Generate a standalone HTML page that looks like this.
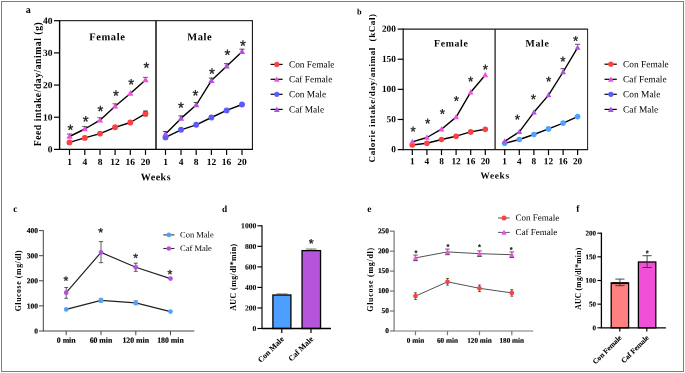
<!DOCTYPE html>
<html lang="en">
<head>
<meta charset="utf-8">
<title>Figure</title>
<style>
html,body{margin:0;padding:0;background:#fff;}
body{width:685px;height:373px;overflow:hidden;}
svg{display:block;font-family:"Liberation Serif", serif;}
</style>
</head>
<body>
<svg width="685" height="373" viewBox="0 0 685 373" role="img" aria-label="Feed intake, calorie intake, glucose tolerance and AUC charts">
<rect x="0" y="0" width="685" height="373" fill="#fff"/>
<rect x="1.5" y="1.5" width="682" height="370" fill="#fff" stroke="#6f7f9f" stroke-width="1"/>
<text transform="translate(25.70 13.00) rotate(0.05)" font-size="10" font-weight="bold" text-anchor="start" fill="#000">a</text>
<line x1="59.60" y1="20.70" x2="252.90" y2="20.70" stroke="#000" stroke-width="1.0" />
<line x1="252.40" y1="20.70" x2="252.40" y2="149.40" stroke="#000" stroke-width="1.0" />
<line x1="59.60" y1="20.20" x2="59.60" y2="150.00" stroke="#000" stroke-width="1.4" />
<line x1="156.00" y1="20.70" x2="156.00" y2="149.40" stroke="#000" stroke-width="1.4" />
<line x1="59.60" y1="149.40" x2="252.90" y2="149.40" stroke="#000" stroke-width="1.3" />
<line x1="54.00" y1="149.40" x2="59.60" y2="149.40" stroke="#000" stroke-width="1.2" />
<text transform="translate(52.60 152.58) rotate(0.05)" font-size="9.5" font-weight="bold" text-anchor="end" fill="#000">0</text>
<line x1="54.00" y1="117.22" x2="59.60" y2="117.22" stroke="#000" stroke-width="1.2" />
<text transform="translate(52.60 120.41) rotate(0.05)" font-size="9.5" font-weight="bold" text-anchor="end" fill="#000">10</text>
<line x1="54.00" y1="85.05" x2="59.60" y2="85.05" stroke="#000" stroke-width="1.2" />
<text transform="translate(52.60 88.23) rotate(0.05)" font-size="9.5" font-weight="bold" text-anchor="end" fill="#000">20</text>
<line x1="54.00" y1="52.88" x2="59.60" y2="52.88" stroke="#000" stroke-width="1.2" />
<text transform="translate(52.60 56.06) rotate(0.05)" font-size="9.5" font-weight="bold" text-anchor="end" fill="#000">30</text>
<line x1="54.00" y1="20.70" x2="59.60" y2="20.70" stroke="#000" stroke-width="1.2" />
<text transform="translate(52.60 23.88) rotate(0.05)" font-size="9.5" font-weight="bold" text-anchor="end" fill="#000">40</text>
<line x1="69.50" y1="149.40" x2="69.50" y2="154.90" stroke="#000" stroke-width="1.2" />
<text transform="translate(69.50 165.00) rotate(0.05)" font-size="9.5" font-weight="bold" text-anchor="middle" fill="#000">1</text>
<line x1="84.80" y1="149.40" x2="84.80" y2="154.90" stroke="#000" stroke-width="1.2" />
<text transform="translate(84.80 165.00) rotate(0.05)" font-size="9.5" font-weight="bold" text-anchor="middle" fill="#000">4</text>
<line x1="100.00" y1="149.40" x2="100.00" y2="154.90" stroke="#000" stroke-width="1.2" />
<text transform="translate(100.00 165.00) rotate(0.05)" font-size="9.5" font-weight="bold" text-anchor="middle" fill="#000">8</text>
<line x1="115.10" y1="149.40" x2="115.10" y2="154.90" stroke="#000" stroke-width="1.2" />
<text transform="translate(115.10 165.00) rotate(0.05)" font-size="9.5" font-weight="bold" text-anchor="middle" fill="#000">12</text>
<line x1="130.30" y1="149.40" x2="130.30" y2="154.90" stroke="#000" stroke-width="1.2" />
<text transform="translate(130.30 165.00) rotate(0.05)" font-size="9.5" font-weight="bold" text-anchor="middle" fill="#000">16</text>
<line x1="145.50" y1="149.40" x2="145.50" y2="154.90" stroke="#000" stroke-width="1.2" />
<text transform="translate(145.50 165.00) rotate(0.05)" font-size="9.5" font-weight="bold" text-anchor="middle" fill="#000">20</text>
<line x1="165.50" y1="149.40" x2="165.50" y2="154.90" stroke="#000" stroke-width="1.2" />
<text transform="translate(165.50 165.00) rotate(0.05)" font-size="9.5" font-weight="bold" text-anchor="middle" fill="#000">1</text>
<line x1="181.00" y1="149.40" x2="181.00" y2="154.90" stroke="#000" stroke-width="1.2" />
<text transform="translate(181.00 165.00) rotate(0.05)" font-size="9.5" font-weight="bold" text-anchor="middle" fill="#000">4</text>
<line x1="196.20" y1="149.40" x2="196.20" y2="154.90" stroke="#000" stroke-width="1.2" />
<text transform="translate(196.20 165.00) rotate(0.05)" font-size="9.5" font-weight="bold" text-anchor="middle" fill="#000">8</text>
<line x1="211.40" y1="149.40" x2="211.40" y2="154.90" stroke="#000" stroke-width="1.2" />
<text transform="translate(211.40 165.00) rotate(0.05)" font-size="9.5" font-weight="bold" text-anchor="middle" fill="#000">12</text>
<line x1="226.60" y1="149.40" x2="226.60" y2="154.90" stroke="#000" stroke-width="1.2" />
<text transform="translate(226.60 165.00) rotate(0.05)" font-size="9.5" font-weight="bold" text-anchor="middle" fill="#000">16</text>
<line x1="242.00" y1="149.40" x2="242.00" y2="154.90" stroke="#000" stroke-width="1.2" />
<text transform="translate(242.00 165.00) rotate(0.05)" font-size="9.5" font-weight="bold" text-anchor="middle" fill="#000">20</text>
<text transform="translate(155.90 180.20) rotate(0.05)" font-size="10" font-weight="bold" text-anchor="middle" letter-spacing="0.5" fill="#000">Weeks</text>
<text transform="translate(41.40 84.30) rotate(-90)" font-size="9.6" font-weight="bold" text-anchor="middle" textLength="124.0" lengthAdjust="spacing" fill="#000">Feed intake/day/animal (g)</text>
<text transform="translate(107.30 40.30) rotate(0.05)" font-size="10.5" font-weight="bold" text-anchor="middle" letter-spacing="0.6" fill="#000">Female</text>
<text transform="translate(199.80 40.30) rotate(0.05)" font-size="10.5" font-weight="bold" text-anchor="middle" letter-spacing="0.6" fill="#000">Male</text>
<polyline points="69.50,142.40 84.80,137.90 100.00,133.60 115.10,127.30 130.30,122.50 145.50,113.60" fill="none" stroke="#000" stroke-width="1.4" stroke-linejoin="round"/>
<polyline points="69.50,136.50 84.80,129.00 100.00,120.20 115.10,106.30 130.30,93.50 145.50,79.90" fill="none" stroke="#000" stroke-width="1.4" stroke-linejoin="round"/>
<polyline points="165.50,137.40 181.00,129.80 196.20,124.80 211.40,117.50 226.60,110.40 242.00,104.50" fill="none" stroke="#000" stroke-width="1.4" stroke-linejoin="round"/>
<polyline points="165.50,134.00 181.00,118.40 196.20,105.00 211.40,80.60 226.60,66.20 242.00,51.70" fill="none" stroke="#000" stroke-width="1.4" stroke-linejoin="round"/>
<circle cx="69.50" cy="142.40" r="2.95" fill="#ff4040"/>
<circle cx="84.80" cy="137.90" r="2.95" fill="#ff4040"/>
<circle cx="100.00" cy="133.60" r="2.95" fill="#ff4040"/>
<circle cx="115.10" cy="127.30" r="2.95" fill="#ff4040"/>
<circle cx="130.30" cy="122.50" r="2.95" fill="#ff4040"/>
<circle cx="145.50" cy="113.60" r="2.95" fill="#ff4040"/>
<line x1="143.10" y1="111.00" x2="147.90" y2="111.00" stroke="#333" stroke-width="0.9" />
<line x1="143.10" y1="116.20" x2="147.90" y2="116.20" stroke="#933" stroke-width="0.7" />
<polygon points="69.50,133.00 66.40,138.80 72.60,138.80" fill="#f24fe0"/>
<line x1="66.90" y1="134.00" x2="72.10" y2="134.00" stroke="#444" stroke-width="0.8" />
<polygon points="84.80,125.50 81.70,131.30 87.90,131.30" fill="#f24fe0"/>
<line x1="82.20" y1="126.50" x2="87.40" y2="126.50" stroke="#444" stroke-width="0.8" />
<polygon points="100.00,116.70 96.90,122.50 103.10,122.50" fill="#f24fe0"/>
<line x1="97.40" y1="117.70" x2="102.60" y2="117.70" stroke="#444" stroke-width="0.8" />
<polygon points="115.10,102.80 112.00,108.60 118.20,108.60" fill="#f24fe0"/>
<line x1="112.50" y1="103.80" x2="117.70" y2="103.80" stroke="#444" stroke-width="0.8" />
<polygon points="130.30,90.00 127.20,95.80 133.40,95.80" fill="#f24fe0"/>
<polygon points="145.50,76.40 142.40,82.20 148.60,82.20" fill="#f24fe0"/>
<line x1="142.90" y1="77.40" x2="148.10" y2="77.40" stroke="#444" stroke-width="0.8" />
<circle cx="165.50" cy="137.40" r="2.95" fill="#5a5aff"/>
<circle cx="181.00" cy="129.80" r="2.95" fill="#5a5aff"/>
<circle cx="196.20" cy="124.80" r="2.95" fill="#5a5aff"/>
<circle cx="211.40" cy="117.50" r="2.95" fill="#5a5aff"/>
<circle cx="226.60" cy="110.40" r="2.95" fill="#5a5aff"/>
<circle cx="242.00" cy="104.50" r="2.95" fill="#5a5aff"/>
<polygon points="165.50,130.50 162.40,136.30 168.60,136.30" fill="#b44fe0"/>
<line x1="162.90" y1="131.50" x2="168.10" y2="131.50" stroke="#333" stroke-width="0.85" />
<polygon points="181.00,114.90 177.90,120.70 184.10,120.70" fill="#b44fe0"/>
<line x1="178.40" y1="115.90" x2="183.60" y2="115.90" stroke="#333" stroke-width="0.85" />
<polygon points="196.20,101.50 193.10,107.30 199.30,107.30" fill="#b44fe0"/>
<line x1="193.60" y1="102.50" x2="198.80" y2="102.50" stroke="#333" stroke-width="0.85" />
<polygon points="211.40,77.10 208.30,82.90 214.50,82.90" fill="#b44fe0"/>
<line x1="208.80" y1="78.10" x2="214.00" y2="78.10" stroke="#333" stroke-width="0.85" />
<polygon points="226.60,62.70 223.50,68.50 229.70,68.50" fill="#b44fe0"/>
<line x1="224.00" y1="63.70" x2="229.20" y2="63.70" stroke="#333" stroke-width="0.85" />
<polygon points="242.00,48.20 238.90,54.00 245.10,54.00" fill="#b44fe0"/>
<line x1="239.40" y1="49.20" x2="244.60" y2="49.20" stroke="#333" stroke-width="0.85" />
<text transform="translate(70.30 134.88) rotate(0.05)" font-size="15" stroke="#1a1a1a" stroke-width="0.3" text-anchor="middle" font-family='"Liberation Sans", sans-serif' fill="#1a1a1a">*</text>
<text transform="translate(85.60 126.38) rotate(0.05)" font-size="15" stroke="#1a1a1a" stroke-width="0.3" text-anchor="middle" font-family='"Liberation Sans", sans-serif' fill="#1a1a1a">*</text>
<text transform="translate(100.50 116.17) rotate(0.05)" font-size="15" stroke="#1a1a1a" stroke-width="0.3" text-anchor="middle" font-family='"Liberation Sans", sans-serif' fill="#1a1a1a">*</text>
<text transform="translate(115.90 100.78) rotate(0.05)" font-size="15" stroke="#1a1a1a" stroke-width="0.3" text-anchor="middle" font-family='"Liberation Sans", sans-serif' fill="#1a1a1a">*</text>
<text transform="translate(131.20 89.38) rotate(0.05)" font-size="15" stroke="#1a1a1a" stroke-width="0.3" text-anchor="middle" font-family='"Liberation Sans", sans-serif' fill="#1a1a1a">*</text>
<text transform="translate(146.40 72.67) rotate(0.05)" font-size="15" stroke="#1a1a1a" stroke-width="0.3" text-anchor="middle" font-family='"Liberation Sans", sans-serif' fill="#1a1a1a">*</text>
<text transform="translate(181.00 112.78) rotate(0.05)" font-size="15" stroke="#1a1a1a" stroke-width="0.3" text-anchor="middle" font-family='"Liberation Sans", sans-serif' fill="#1a1a1a">*</text>
<text transform="translate(195.40 100.58) rotate(0.05)" font-size="15" stroke="#1a1a1a" stroke-width="0.3" text-anchor="middle" font-family='"Liberation Sans", sans-serif' fill="#1a1a1a">*</text>
<text transform="translate(211.80 78.78) rotate(0.05)" font-size="15" stroke="#1a1a1a" stroke-width="0.3" text-anchor="middle" font-family='"Liberation Sans", sans-serif' fill="#1a1a1a">*</text>
<text transform="translate(227.40 60.08) rotate(0.05)" font-size="15" stroke="#1a1a1a" stroke-width="0.3" text-anchor="middle" font-family='"Liberation Sans", sans-serif' fill="#1a1a1a">*</text>
<text transform="translate(242.80 50.78) rotate(0.05)" font-size="15" stroke="#1a1a1a" stroke-width="0.3" text-anchor="middle" font-family='"Liberation Sans", sans-serif' fill="#1a1a1a">*</text>
<line x1="270.60" y1="64.40" x2="282.60" y2="64.40" stroke="#000" stroke-width="1.2" />
<circle cx="276.80" cy="64.40" r="2.6" fill="#ff4040"/>
<text transform="translate(288.90 67.40) rotate(0.05)" font-size="9.4" text-anchor="start" fill="#000">Con Female</text>
<line x1="270.60" y1="79.30" x2="282.60" y2="79.30" stroke="#000" stroke-width="1.2" />
<polygon points="276.80,76.40 273.90,81.82 279.70,81.82" fill="#f24fe0"/>
<text transform="translate(288.90 82.30) rotate(0.05)" font-size="9.4" text-anchor="start" fill="#000">Caf Female</text>
<line x1="270.60" y1="94.30" x2="282.60" y2="94.30" stroke="#000" stroke-width="1.2" />
<circle cx="276.80" cy="94.30" r="2.6" fill="#5a5aff"/>
<text transform="translate(288.90 97.30) rotate(0.05)" font-size="9.4" text-anchor="start" fill="#000">Con Male</text>
<line x1="270.60" y1="109.40" x2="282.60" y2="109.40" stroke="#000" stroke-width="1.2" />
<polygon points="276.80,106.50 273.90,111.92 279.70,111.92" fill="#b44fe0"/>
<text transform="translate(288.90 112.40) rotate(0.05)" font-size="9.4" text-anchor="start" fill="#000">Caf Male</text>
<text transform="translate(356.90 14.50) rotate(0.05)" font-size="8.3" font-weight="bold" text-anchor="start" fill="#000">b</text>
<line x1="403.20" y1="29.10" x2="588.10" y2="29.10" stroke="#1c1c1c" stroke-width="1.3" />
<line x1="587.60" y1="29.10" x2="587.60" y2="149.60" stroke="#1c1c1c" stroke-width="1.0" />
<line x1="403.20" y1="28.60" x2="403.20" y2="150.20" stroke="#1c1c1c" stroke-width="1.26" />
<line x1="495.10" y1="29.10" x2="495.10" y2="149.60" stroke="#1c1c1c" stroke-width="1.26" />
<line x1="403.20" y1="149.60" x2="588.10" y2="149.60" stroke="#1c1c1c" stroke-width="1.3" />
<line x1="397.70" y1="149.60" x2="403.20" y2="149.60" stroke="#000" stroke-width="1.2" />
<text transform="translate(395.90 152.32) rotate(0.05)" font-size="9.3" font-weight="bold" text-anchor="end" fill="#000">0</text>
<line x1="397.70" y1="119.47" x2="403.20" y2="119.47" stroke="#000" stroke-width="1.2" />
<text transform="translate(395.90 122.19) rotate(0.05)" font-size="9.3" font-weight="bold" text-anchor="end" fill="#000">50</text>
<line x1="397.70" y1="89.35" x2="403.20" y2="89.35" stroke="#000" stroke-width="1.2" />
<text transform="translate(395.90 92.07) rotate(0.05)" font-size="9.3" font-weight="bold" text-anchor="end" fill="#000">100</text>
<line x1="397.70" y1="59.22" x2="403.20" y2="59.22" stroke="#000" stroke-width="1.2" />
<text transform="translate(395.90 61.94) rotate(0.05)" font-size="9.3" font-weight="bold" text-anchor="end" fill="#000">150</text>
<line x1="397.70" y1="29.10" x2="403.20" y2="29.10" stroke="#000" stroke-width="1.2" />
<text transform="translate(395.90 31.82) rotate(0.05)" font-size="9.3" font-weight="bold" text-anchor="end" fill="#000">200</text>
<line x1="412.30" y1="149.60" x2="412.30" y2="155.10" stroke="#000" stroke-width="1.2" />
<text transform="translate(412.30 164.30) rotate(0.05)" font-size="9.3" font-weight="bold" text-anchor="middle" fill="#000">1</text>
<line x1="426.90" y1="149.60" x2="426.90" y2="155.10" stroke="#000" stroke-width="1.2" />
<text transform="translate(426.90 164.30) rotate(0.05)" font-size="9.3" font-weight="bold" text-anchor="middle" fill="#000">4</text>
<line x1="441.50" y1="149.60" x2="441.50" y2="155.10" stroke="#000" stroke-width="1.2" />
<text transform="translate(441.50 164.30) rotate(0.05)" font-size="9.3" font-weight="bold" text-anchor="middle" fill="#000">8</text>
<line x1="456.10" y1="149.60" x2="456.10" y2="155.10" stroke="#000" stroke-width="1.2" />
<text transform="translate(456.10 164.30) rotate(0.05)" font-size="9.3" font-weight="bold" text-anchor="middle" fill="#000">12</text>
<line x1="470.70" y1="149.60" x2="470.70" y2="155.10" stroke="#000" stroke-width="1.2" />
<text transform="translate(470.70 164.30) rotate(0.05)" font-size="9.3" font-weight="bold" text-anchor="middle" fill="#000">16</text>
<line x1="485.30" y1="149.60" x2="485.30" y2="155.10" stroke="#000" stroke-width="1.2" />
<text transform="translate(485.30 164.30) rotate(0.05)" font-size="9.3" font-weight="bold" text-anchor="middle" fill="#000">20</text>
<line x1="504.70" y1="149.60" x2="504.70" y2="155.10" stroke="#000" stroke-width="1.2" />
<text transform="translate(504.70 164.30) rotate(0.05)" font-size="9.3" font-weight="bold" text-anchor="middle" fill="#000">1</text>
<line x1="519.30" y1="149.60" x2="519.30" y2="155.10" stroke="#000" stroke-width="1.2" />
<text transform="translate(519.30 164.30) rotate(0.05)" font-size="9.3" font-weight="bold" text-anchor="middle" fill="#000">4</text>
<line x1="533.90" y1="149.60" x2="533.90" y2="155.10" stroke="#000" stroke-width="1.2" />
<text transform="translate(533.90 164.30) rotate(0.05)" font-size="9.3" font-weight="bold" text-anchor="middle" fill="#000">8</text>
<line x1="548.50" y1="149.60" x2="548.50" y2="155.10" stroke="#000" stroke-width="1.2" />
<text transform="translate(548.50 164.30) rotate(0.05)" font-size="9.3" font-weight="bold" text-anchor="middle" fill="#000">12</text>
<line x1="563.10" y1="149.60" x2="563.10" y2="155.10" stroke="#000" stroke-width="1.2" />
<text transform="translate(563.10 164.30) rotate(0.05)" font-size="9.3" font-weight="bold" text-anchor="middle" fill="#000">16</text>
<line x1="577.60" y1="149.60" x2="577.60" y2="155.10" stroke="#000" stroke-width="1.2" />
<text transform="translate(577.60 164.30) rotate(0.05)" font-size="9.3" font-weight="bold" text-anchor="middle" fill="#000">20</text>
<text transform="translate(495.10 178.50) rotate(0.05)" font-size="9.2" font-weight="bold" text-anchor="middle" letter-spacing="0.75" fill="#000">Weeks</text>
<text transform="translate(375.20 88.20) rotate(-90)" font-size="9.0" font-weight="bold" text-anchor="middle" textLength="148.5" lengthAdjust="spacing" fill="#000">Calorie intake/day/animal &#160;(kCal)</text>
<text transform="translate(451.30 46.60) rotate(0.05)" font-size="9.8" font-weight="bold" text-anchor="middle" letter-spacing="0.65" fill="#000">Female</text>
<text transform="translate(537.50 46.60) rotate(0.05)" font-size="9.8" font-weight="bold" text-anchor="middle" letter-spacing="0.65" fill="#000">Male</text>
<polyline points="412.30,145.00 426.90,143.30 441.50,139.50 456.10,136.20 470.70,131.90 485.30,129.20" fill="none" stroke="#000" stroke-width="1.4" stroke-linejoin="round"/>
<polyline points="412.30,141.80 426.90,137.50 441.50,129.20 456.10,117.10 470.70,92.20 485.30,75.00" fill="none" stroke="#000" stroke-width="1.4" stroke-linejoin="round"/>
<polyline points="504.70,143.30 519.30,139.50 533.90,134.50 548.50,128.90 563.10,123.10 577.60,116.60" fill="none" stroke="#000" stroke-width="1.4" stroke-linejoin="round"/>
<polyline points="504.70,141.30 519.30,131.90 533.90,112.30 548.50,95.10 563.10,72.00 577.60,47.60" fill="none" stroke="#000" stroke-width="1.4" stroke-linejoin="round"/>
<circle cx="412.30" cy="145.00" r="2.8" fill="#ff4040"/>
<circle cx="426.90" cy="143.30" r="2.8" fill="#ff4040"/>
<circle cx="441.50" cy="139.50" r="2.8" fill="#ff4040"/>
<circle cx="456.10" cy="136.20" r="2.8" fill="#ff4040"/>
<circle cx="470.70" cy="131.90" r="2.8" fill="#ff4040"/>
<circle cx="485.30" cy="129.20" r="2.8" fill="#ff4040"/>
<polygon points="412.30,138.65 409.45,143.98 415.15,143.98" fill="#f24fe0"/>
<polygon points="426.90,134.35 424.05,139.68 429.75,139.68" fill="#f24fe0"/>
<polygon points="441.50,126.05 438.65,131.38 444.35,131.38" fill="#f24fe0"/>
<polygon points="456.10,113.95 453.25,119.28 458.95,119.28" fill="#f24fe0"/>
<polygon points="470.70,89.05 467.85,94.38 473.55,94.38" fill="#f24fe0"/>
<polygon points="485.30,71.85 482.45,77.18 488.15,77.18" fill="#f24fe0"/>
<circle cx="504.70" cy="143.30" r="2.8" fill="#4da3ff"/>
<circle cx="519.30" cy="139.50" r="2.8" fill="#4da3ff"/>
<circle cx="533.90" cy="134.50" r="2.8" fill="#4da3ff"/>
<circle cx="548.50" cy="128.90" r="2.8" fill="#4da3ff"/>
<circle cx="563.10" cy="123.10" r="2.8" fill="#4da3ff"/>
<circle cx="577.60" cy="116.60" r="2.8" fill="#4da3ff"/>
<polygon points="504.70,138.15 501.85,143.48 507.55,143.48" fill="#b44fe0"/>
<polygon points="519.30,128.75 516.45,134.08 522.15,134.08" fill="#b44fe0"/>
<polygon points="533.90,109.15 531.05,114.48 536.75,114.48" fill="#b44fe0"/>
<polygon points="548.50,91.95 545.65,97.28 551.35,97.28" fill="#b44fe0"/>
<polygon points="563.10,68.85 560.25,74.18 565.95,74.18" fill="#b44fe0"/>
<line x1="560.50" y1="68.70" x2="565.70" y2="68.70" stroke="#333" stroke-width="0.85" />
<polygon points="577.60,44.45 574.75,49.78 580.45,49.78" fill="#b44fe0"/>
<line x1="575.00" y1="44.30" x2="580.20" y2="44.30" stroke="#333" stroke-width="0.85" />
<text transform="translate(413.00 136.02) rotate(0.05)" font-size="13.5" stroke="#1a1a1a" stroke-width="0.3" text-anchor="middle" font-family='"Liberation Sans", sans-serif' fill="#1a1a1a">*</text>
<text transform="translate(427.60 128.02) rotate(0.05)" font-size="13.5" stroke="#1a1a1a" stroke-width="0.3" text-anchor="middle" font-family='"Liberation Sans", sans-serif' fill="#1a1a1a">*</text>
<text transform="translate(442.30 118.42) rotate(0.05)" font-size="13.5" stroke="#1a1a1a" stroke-width="0.3" text-anchor="middle" font-family='"Liberation Sans", sans-serif' fill="#1a1a1a">*</text>
<text transform="translate(456.40 105.52) rotate(0.05)" font-size="13.5" stroke="#1a1a1a" stroke-width="0.3" text-anchor="middle" font-family='"Liberation Sans", sans-serif' fill="#1a1a1a">*</text>
<text transform="translate(470.70 86.12) rotate(0.05)" font-size="13.5" stroke="#1a1a1a" stroke-width="0.3" text-anchor="middle" font-family='"Liberation Sans", sans-serif' fill="#1a1a1a">*</text>
<text transform="translate(485.30 73.92) rotate(0.05)" font-size="13.5" stroke="#1a1a1a" stroke-width="0.3" text-anchor="middle" font-family='"Liberation Sans", sans-serif' fill="#1a1a1a">*</text>
<text transform="translate(517.30 123.92) rotate(0.05)" font-size="13.5" stroke="#1a1a1a" stroke-width="0.3" text-anchor="middle" font-family='"Liberation Sans", sans-serif' fill="#1a1a1a">*</text>
<text transform="translate(533.40 103.82) rotate(0.05)" font-size="13.5" stroke="#1a1a1a" stroke-width="0.3" text-anchor="middle" font-family='"Liberation Sans", sans-serif' fill="#1a1a1a">*</text>
<text transform="translate(548.50 86.12) rotate(0.05)" font-size="13.5" stroke="#1a1a1a" stroke-width="0.3" text-anchor="middle" font-family='"Liberation Sans", sans-serif' fill="#1a1a1a">*</text>
<text transform="translate(562.90 66.12) rotate(0.05)" font-size="13.5" stroke="#1a1a1a" stroke-width="0.3" text-anchor="middle" font-family='"Liberation Sans", sans-serif' fill="#1a1a1a">*</text>
<text transform="translate(575.50 45.42) rotate(0.05)" font-size="13.5" stroke="#1a1a1a" stroke-width="0.3" text-anchor="middle" font-family='"Liberation Sans", sans-serif' fill="#1a1a1a">*</text>
<line x1="604.50" y1="64.20" x2="616.80" y2="64.20" stroke="#000" stroke-width="1.2" />
<circle cx="610.85" cy="64.20" r="2.6" fill="#ff4040"/>
<text transform="translate(623.10 67.20) rotate(0.05)" font-size="9.4" text-anchor="start" fill="#000">Con Female</text>
<line x1="604.50" y1="79.30" x2="616.80" y2="79.30" stroke="#000" stroke-width="1.2" />
<polygon points="610.85,76.40 607.95,81.82 613.75,81.82" fill="#f24fe0"/>
<text transform="translate(623.10 82.30) rotate(0.05)" font-size="9.4" text-anchor="start" fill="#000">Caf Female</text>
<line x1="604.50" y1="94.30" x2="616.80" y2="94.30" stroke="#000" stroke-width="1.2" />
<circle cx="610.85" cy="94.30" r="2.6" fill="#5a5aff"/>
<text transform="translate(623.10 97.30) rotate(0.05)" font-size="9.4" text-anchor="start" fill="#000">Con Male</text>
<line x1="604.50" y1="109.40" x2="616.80" y2="109.40" stroke="#000" stroke-width="1.2" />
<polygon points="610.85,106.50 607.95,111.92 613.75,111.92" fill="#b44fe0"/>
<text transform="translate(623.10 112.40) rotate(0.05)" font-size="9.4" text-anchor="start" fill="#000">Caf Male</text>
<text transform="translate(13.30 212.10) rotate(0.05)" font-size="9.5" font-weight="bold" text-anchor="start" fill="#000">c</text>
<line x1="43.30" y1="230.20" x2="43.30" y2="331.00" stroke="#444" stroke-width="1.0" />
<line x1="42.90" y1="331.00" x2="194.40" y2="331.00" stroke="#444" stroke-width="1.0" />
<line x1="39.00" y1="331.00" x2="43.30" y2="331.00" stroke="#444" stroke-width="1.0" />
<text transform="translate(38.00 333.51) rotate(0.05)" font-size="7.5" font-weight="bold" stroke="#000" stroke-width="0.15" text-anchor="end" fill="#000">0</text>
<line x1="39.00" y1="305.90" x2="43.30" y2="305.90" stroke="#444" stroke-width="1.0" />
<text transform="translate(38.00 308.41) rotate(0.05)" font-size="7.5" font-weight="bold" stroke="#000" stroke-width="0.15" text-anchor="end" fill="#000">100</text>
<line x1="39.00" y1="280.80" x2="43.30" y2="280.80" stroke="#444" stroke-width="1.0" />
<text transform="translate(38.00 283.31) rotate(0.05)" font-size="7.5" font-weight="bold" stroke="#000" stroke-width="0.15" text-anchor="end" fill="#000">200</text>
<line x1="39.00" y1="255.70" x2="43.30" y2="255.70" stroke="#444" stroke-width="1.0" />
<text transform="translate(38.00 258.21) rotate(0.05)" font-size="7.5" font-weight="bold" stroke="#000" stroke-width="0.15" text-anchor="end" fill="#000">300</text>
<line x1="39.00" y1="230.60" x2="43.30" y2="230.60" stroke="#444" stroke-width="1.0" />
<text transform="translate(38.00 233.11) rotate(0.05)" font-size="7.5" font-weight="bold" stroke="#000" stroke-width="0.15" text-anchor="end" fill="#000">400</text>
<line x1="66.20" y1="331.00" x2="66.20" y2="335.20" stroke="#444" stroke-width="1.0" />
<text transform="translate(66.20 342.70) rotate(0.05)" font-size="7.8" font-weight="bold" stroke="#000" stroke-width="0.15" text-anchor="middle" fill="#000">0 min</text>
<line x1="101.00" y1="331.00" x2="101.00" y2="335.20" stroke="#444" stroke-width="1.0" />
<text transform="translate(101.00 342.70) rotate(0.05)" font-size="7.8" font-weight="bold" stroke="#000" stroke-width="0.15" text-anchor="middle" fill="#000">60 min</text>
<line x1="135.80" y1="331.00" x2="135.80" y2="335.20" stroke="#444" stroke-width="1.0" />
<text transform="translate(135.80 342.70) rotate(0.05)" font-size="7.8" font-weight="bold" stroke="#000" stroke-width="0.15" text-anchor="middle" fill="#000">120 min</text>
<line x1="170.50" y1="331.00" x2="170.50" y2="335.20" stroke="#444" stroke-width="1.0" />
<text transform="translate(170.50 342.70) rotate(0.05)" font-size="7.8" font-weight="bold" stroke="#000" stroke-width="0.15" text-anchor="middle" fill="#000">180 min</text>
<text transform="translate(20.70 280.80) rotate(-90)" font-size="7.8" font-weight="bold" text-anchor="middle" textLength="61.0" lengthAdjust="spacing" fill="#000">Glucose (mg/dl)</text>
<line x1="66.20" y1="287.50" x2="66.20" y2="298.30" stroke="#333" stroke-width="0.8" />
<line x1="64.40" y1="287.50" x2="68.00" y2="287.50" stroke="#333" stroke-width="0.8" />
<line x1="64.40" y1="298.30" x2="68.00" y2="298.30" stroke="#333" stroke-width="0.8" />
<line x1="101.00" y1="241.60" x2="101.00" y2="262.70" stroke="#333" stroke-width="0.8" />
<line x1="98.80" y1="241.60" x2="103.20" y2="241.60" stroke="#333" stroke-width="0.8" />
<line x1="98.80" y1="262.70" x2="103.20" y2="262.70" stroke="#333" stroke-width="0.8" />
<line x1="135.80" y1="263.20" x2="135.80" y2="271.30" stroke="#333" stroke-width="0.8" />
<line x1="133.80" y1="263.20" x2="137.80" y2="263.20" stroke="#333" stroke-width="0.8" />
<line x1="133.80" y1="271.30" x2="137.80" y2="271.30" stroke="#333" stroke-width="0.8" />
<line x1="101.00" y1="298.30" x2="101.00" y2="302.30" stroke="#3d6fa8" stroke-width="0.7" />
<line x1="98.80" y1="298.30" x2="103.20" y2="298.30" stroke="#3d6fa8" stroke-width="0.7" />
<line x1="98.80" y1="302.30" x2="103.20" y2="302.30" stroke="#3d6fa8" stroke-width="0.7" />
<line x1="135.80" y1="300.80" x2="135.80" y2="304.80" stroke="#3d6fa8" stroke-width="0.7" />
<line x1="133.60" y1="300.80" x2="138.00" y2="300.80" stroke="#3d6fa8" stroke-width="0.7" />
<line x1="133.60" y1="304.80" x2="138.00" y2="304.80" stroke="#3d6fa8" stroke-width="0.7" />
<polyline points="66.20,309.40 101.00,300.30 135.80,302.80 170.50,311.60" fill="none" stroke="#222" stroke-width="1.2" stroke-linejoin="round"/>
<polyline points="66.20,292.70 101.00,252.40 135.80,267.30 170.50,278.60" fill="none" stroke="#222" stroke-width="1.2" stroke-linejoin="round"/>
<circle cx="66.20" cy="309.40" r="2.35" fill="#4da3ff"/>
<circle cx="101.00" cy="300.30" r="2.35" fill="#4da3ff"/>
<circle cx="135.80" cy="302.80" r="2.35" fill="#4da3ff"/>
<circle cx="170.50" cy="311.60" r="2.35" fill="#4da3ff"/>
<circle cx="66.20" cy="292.70" r="2.35" fill="#b44fe0"/>
<circle cx="101.00" cy="252.40" r="2.35" fill="#b44fe0"/>
<circle cx="135.80" cy="267.30" r="2.35" fill="#b44fe0"/>
<circle cx="170.50" cy="278.60" r="2.35" fill="#b44fe0"/>
<text transform="translate(66.00 285.11) rotate(0.05)" font-size="12.5" stroke="#1a1a1a" stroke-width="0.3" text-anchor="middle" font-family='"Liberation Sans", sans-serif' fill="#1a1a1a">*</text>
<text transform="translate(100.80 236.71) rotate(0.05)" font-size="12.5" stroke="#1a1a1a" stroke-width="0.3" text-anchor="middle" font-family='"Liberation Sans", sans-serif' fill="#1a1a1a">*</text>
<text transform="translate(135.80 262.21) rotate(0.05)" font-size="12.5" stroke="#1a1a1a" stroke-width="0.3" text-anchor="middle" font-family='"Liberation Sans", sans-serif' fill="#1a1a1a">*</text>
<text transform="translate(170.00 278.51) rotate(0.05)" font-size="12.5" stroke="#1a1a1a" stroke-width="0.3" text-anchor="middle" font-family='"Liberation Sans", sans-serif' fill="#1a1a1a">*</text>
<line x1="163.30" y1="234.90" x2="174.40" y2="234.90" stroke="#333" stroke-width="1.1" />
<circle cx="168.90" cy="234.90" r="2.35" fill="#4da3ff"/>
<text transform="translate(180.00 237.40) rotate(0.05)" font-size="8.5" text-anchor="start" fill="#000">Con Male</text>
<line x1="163.30" y1="248.50" x2="174.40" y2="248.50" stroke="#333" stroke-width="1.1" />
<circle cx="168.90" cy="248.50" r="2.35" fill="#b44fe0"/>
<text transform="translate(180.00 251.00) rotate(0.05)" font-size="8.5" text-anchor="start" fill="#000">Caf Male</text>
<text transform="translate(222.00 212.00) rotate(0.05)" font-size="9.3" font-weight="bold" text-anchor="start" fill="#000">d</text>
<rect x="272.90" y="295.00" width="18.00" height="33.50" fill="#4d9fff" stroke="#000" stroke-width="1.3"/>
<rect x="302.05" y="250.60" width="18.50" height="77.90" fill="#b455dc" stroke="#000" stroke-width="1.3"/>
<line x1="262.00" y1="225.20" x2="262.00" y2="329.10" stroke="#000" stroke-width="1.15" />
<line x1="262.00" y1="328.50" x2="331.00" y2="328.50" stroke="#000" stroke-width="1.3" />
<line x1="257.40" y1="328.50" x2="262.00" y2="328.50" stroke="#000" stroke-width="1.15" />
<text transform="translate(256.30 331.05) rotate(0.05)" font-size="7.6" font-weight="bold" stroke="#000" stroke-width="0.05" text-anchor="end" fill="#000">0</text>
<line x1="257.40" y1="307.96" x2="262.00" y2="307.96" stroke="#000" stroke-width="1.15" />
<text transform="translate(256.30 310.51) rotate(0.05)" font-size="7.6" font-weight="bold" stroke="#000" stroke-width="0.05" text-anchor="end" fill="#000">200</text>
<line x1="257.40" y1="287.42" x2="262.00" y2="287.42" stroke="#000" stroke-width="1.15" />
<text transform="translate(256.30 289.97) rotate(0.05)" font-size="7.6" font-weight="bold" stroke="#000" stroke-width="0.05" text-anchor="end" fill="#000">400</text>
<line x1="257.40" y1="266.88" x2="262.00" y2="266.88" stroke="#000" stroke-width="1.15" />
<text transform="translate(256.30 269.43) rotate(0.05)" font-size="7.6" font-weight="bold" stroke="#000" stroke-width="0.05" text-anchor="end" fill="#000">600</text>
<line x1="257.40" y1="246.34" x2="262.00" y2="246.34" stroke="#000" stroke-width="1.15" />
<text transform="translate(256.30 248.89) rotate(0.05)" font-size="7.6" font-weight="bold" stroke="#000" stroke-width="0.05" text-anchor="end" fill="#000">800</text>
<line x1="257.40" y1="225.80" x2="262.00" y2="225.80" stroke="#000" stroke-width="1.15" />
<text transform="translate(256.30 228.35) rotate(0.05)" font-size="7.6" font-weight="bold" stroke="#000" stroke-width="0.05" text-anchor="end" fill="#000">1000</text>
<line x1="281.80" y1="328.50" x2="281.80" y2="333.10" stroke="#000" stroke-width="1.2" />
<line x1="311.00" y1="328.50" x2="311.00" y2="333.10" stroke="#000" stroke-width="1.2" />
<text transform="translate(235.60 277.30) rotate(-90)" font-size="7.9" font-weight="bold" text-anchor="middle" textLength="67.0" lengthAdjust="spacing" fill="#000">AUC (mg/dl*min)</text>
<text transform="translate(284.40 339.60) rotate(-45)" font-size="7.9" font-weight="bold" stroke="#000" stroke-width="0.05" text-anchor="end" fill="#000">Con Male</text>
<text transform="translate(313.70 339.60) rotate(-45)" font-size="7.9" font-weight="bold" stroke="#000" stroke-width="0.05" text-anchor="end" fill="#000">Caf Male</text>
<line x1="276.50" y1="294.00" x2="287.50" y2="294.00" stroke="#333" stroke-width="0.8" />
<line x1="306.00" y1="249.00" x2="316.50" y2="249.00" stroke="#555" stroke-width="0.8" />
<line x1="311.30" y1="249.00" x2="311.30" y2="250.40" stroke="#555" stroke-width="0.8" />
<text transform="translate(311.30 247.81) rotate(0.05)" font-size="12.5" stroke="#1a1a1a" stroke-width="0.3" text-anchor="middle" font-family='"Liberation Sans", sans-serif' fill="#1a1a1a">*</text>
<text transform="translate(367.20 212.10) rotate(0.05)" font-size="9.5" font-weight="bold" text-anchor="start" fill="#000">e</text>
<line x1="394.10" y1="230.80" x2="394.10" y2="331.00" stroke="#777" stroke-width="1.2" />
<line x1="393.70" y1="331.00" x2="533.20" y2="331.00" stroke="#777" stroke-width="1.2" />
<line x1="389.90" y1="331.00" x2="394.10" y2="331.00" stroke="#777" stroke-width="1.2" />
<text transform="translate(389.00 332.98) rotate(0.05)" font-size="7.4" font-weight="bold" stroke="#000" stroke-width="0.15" text-anchor="end" fill="#000">0</text>
<line x1="389.90" y1="311.04" x2="394.10" y2="311.04" stroke="#777" stroke-width="1.2" />
<text transform="translate(389.00 313.02) rotate(0.05)" font-size="7.4" font-weight="bold" stroke="#000" stroke-width="0.15" text-anchor="end" fill="#000">50</text>
<line x1="389.90" y1="291.08" x2="394.10" y2="291.08" stroke="#777" stroke-width="1.2" />
<text transform="translate(389.00 293.06) rotate(0.05)" font-size="7.4" font-weight="bold" stroke="#000" stroke-width="0.15" text-anchor="end" fill="#000">100</text>
<line x1="389.90" y1="271.12" x2="394.10" y2="271.12" stroke="#777" stroke-width="1.2" />
<text transform="translate(389.00 273.10) rotate(0.05)" font-size="7.4" font-weight="bold" stroke="#000" stroke-width="0.15" text-anchor="end" fill="#000">150</text>
<line x1="389.90" y1="251.16" x2="394.10" y2="251.16" stroke="#777" stroke-width="1.2" />
<text transform="translate(389.00 253.14) rotate(0.05)" font-size="7.4" font-weight="bold" stroke="#000" stroke-width="0.15" text-anchor="end" fill="#000">200</text>
<line x1="389.90" y1="231.20" x2="394.10" y2="231.20" stroke="#777" stroke-width="1.2" />
<text transform="translate(389.00 233.18) rotate(0.05)" font-size="7.4" font-weight="bold" stroke="#000" stroke-width="0.15" text-anchor="end" fill="#000">250</text>
<line x1="415.50" y1="331.00" x2="415.50" y2="335.20" stroke="#777" stroke-width="1.2" />
<text transform="translate(415.50 342.70) rotate(0.05)" font-size="7.2" font-weight="bold" stroke="#000" stroke-width="0.15" text-anchor="middle" fill="#000">0 min</text>
<line x1="447.50" y1="331.00" x2="447.50" y2="335.20" stroke="#777" stroke-width="1.2" />
<text transform="translate(447.50 342.70) rotate(0.05)" font-size="7.2" font-weight="bold" stroke="#000" stroke-width="0.15" text-anchor="middle" fill="#000">60 min</text>
<line x1="479.50" y1="331.00" x2="479.50" y2="335.20" stroke="#777" stroke-width="1.2" />
<text transform="translate(479.50 342.70) rotate(0.05)" font-size="7.2" font-weight="bold" stroke="#000" stroke-width="0.15" text-anchor="middle" fill="#000">120 min</text>
<line x1="511.80" y1="331.00" x2="511.80" y2="335.20" stroke="#777" stroke-width="1.2" />
<text transform="translate(511.80 342.70) rotate(0.05)" font-size="7.2" font-weight="bold" stroke="#000" stroke-width="0.15" text-anchor="middle" fill="#000">180 min</text>
<text transform="translate(373.20 279.80) rotate(-90)" font-size="8.0" font-weight="bold" text-anchor="middle" textLength="64.0" lengthAdjust="spacing" fill="#000">Glucose (mg/dl)</text>
<line x1="415.50" y1="292.80" x2="415.50" y2="299.40" stroke="#333" stroke-width="0.8" />
<line x1="414.10" y1="292.80" x2="416.90" y2="292.80" stroke="#333" stroke-width="0.8" />
<line x1="414.10" y1="299.40" x2="416.90" y2="299.40" stroke="#333" stroke-width="0.8" />
<line x1="447.50" y1="278.50" x2="447.50" y2="285.10" stroke="#333" stroke-width="0.8" />
<line x1="446.10" y1="278.50" x2="448.90" y2="278.50" stroke="#333" stroke-width="0.8" />
<line x1="446.10" y1="285.10" x2="448.90" y2="285.10" stroke="#333" stroke-width="0.8" />
<line x1="479.50" y1="285.00" x2="479.50" y2="291.60" stroke="#333" stroke-width="0.8" />
<line x1="478.10" y1="285.00" x2="480.90" y2="285.00" stroke="#333" stroke-width="0.8" />
<line x1="478.10" y1="291.60" x2="480.90" y2="291.60" stroke="#333" stroke-width="0.8" />
<line x1="511.80" y1="289.60" x2="511.80" y2="296.20" stroke="#333" stroke-width="0.8" />
<line x1="510.40" y1="289.60" x2="513.20" y2="289.60" stroke="#333" stroke-width="0.8" />
<line x1="510.40" y1="296.20" x2="513.20" y2="296.20" stroke="#333" stroke-width="0.8" />
<polyline points="415.50,296.10 447.50,281.80 479.50,288.30 511.80,292.90" fill="none" stroke="#333" stroke-width="0.85" stroke-linejoin="round"/>
<polyline points="415.50,257.90 447.50,251.90 479.50,253.70 511.80,254.70" fill="none" stroke="#333" stroke-width="0.85" stroke-linejoin="round"/>
<circle cx="415.50" cy="296.10" r="2.4" fill="#ff4040"/>
<circle cx="447.50" cy="281.80" r="2.4" fill="#ff4040"/>
<circle cx="479.50" cy="288.30" r="2.4" fill="#ff4040"/>
<circle cx="511.80" cy="292.90" r="2.4" fill="#ff4040"/>
<polygon points="415.50,254.70 412.90,260.40 418.10,260.40" fill="#f24fe0"/>
<polygon points="447.50,248.70 444.90,254.40 450.10,254.40" fill="#f24fe0"/>
<polygon points="479.50,250.50 476.90,256.20 482.10,256.20" fill="#f24fe0"/>
<polygon points="511.80,251.50 509.20,257.20 514.40,257.20" fill="#f24fe0"/>
<line x1="413.20" y1="255.10" x2="417.80" y2="255.10" stroke="#333" stroke-width="0.8" />
<line x1="413.20" y1="260.70" x2="417.80" y2="260.70" stroke="#333" stroke-width="0.8" />
<line x1="445.20" y1="249.10" x2="449.80" y2="249.10" stroke="#333" stroke-width="0.8" />
<line x1="445.20" y1="254.70" x2="449.80" y2="254.70" stroke="#333" stroke-width="0.8" />
<line x1="477.20" y1="250.90" x2="481.80" y2="250.90" stroke="#333" stroke-width="0.8" />
<line x1="477.20" y1="256.50" x2="481.80" y2="256.50" stroke="#333" stroke-width="0.8" />
<line x1="509.50" y1="251.90" x2="514.10" y2="251.90" stroke="#333" stroke-width="0.8" />
<line x1="509.50" y1="257.50" x2="514.10" y2="257.50" stroke="#333" stroke-width="0.8" />
<text transform="translate(416.00 255.49) rotate(0.05)" font-size="7.5" font-weight="bold" stroke="#222" stroke-width="0.12" text-anchor="middle" font-family='"Liberation Sans", sans-serif' fill="#222">*</text>
<text transform="translate(448.00 249.19) rotate(0.05)" font-size="7.5" font-weight="bold" stroke="#222" stroke-width="0.12" text-anchor="middle" font-family='"Liberation Sans", sans-serif' fill="#222">*</text>
<text transform="translate(479.50 249.49) rotate(0.05)" font-size="7.5" font-weight="bold" stroke="#222" stroke-width="0.12" text-anchor="middle" font-family='"Liberation Sans", sans-serif' fill="#222">*</text>
<text transform="translate(511.30 252.29) rotate(0.05)" font-size="7.5" font-weight="bold" stroke="#222" stroke-width="0.12" text-anchor="middle" font-family='"Liberation Sans", sans-serif' fill="#222">*</text>
<line x1="498.00" y1="218.00" x2="509.70" y2="218.00" stroke="#556" stroke-width="1.0" />
<circle cx="504.00" cy="218.00" r="2.5" fill="#ff4040"/>
<text transform="translate(515.50 220.60) rotate(0.05)" font-size="9.0" text-anchor="start" fill="#000">Con Female</text>
<line x1="498.00" y1="232.40" x2="509.70" y2="232.40" stroke="#556" stroke-width="1.0" />
<polygon points="504.00,229.40 501.40,234.80 506.60,234.80" fill="#f24fe0"/>
<text transform="translate(515.50 235.00) rotate(0.05)" font-size="9.0" text-anchor="start" fill="#000">Caf Female</text>
<text transform="translate(576.30 211.70) rotate(0.05)" font-size="9.5" font-weight="bold" text-anchor="start" fill="#000">f</text>
<rect x="611.20" y="282.90" width="17.40" height="44.90" fill="#ff8080" stroke="#000" stroke-width="1.3"/>
<rect x="638.40" y="262.00" width="17.40" height="65.80" fill="#f24fd8" stroke="#000" stroke-width="1.3"/>
<line x1="601.40" y1="232.60" x2="601.40" y2="328.40" stroke="#000" stroke-width="1.3" />
<line x1="601.40" y1="327.80" x2="665.90" y2="327.80" stroke="#000" stroke-width="1.3" />
<line x1="597.40" y1="327.80" x2="601.40" y2="327.80" stroke="#000" stroke-width="1.15" />
<text transform="translate(596.10 330.18) rotate(0.05)" font-size="7.1" font-weight="bold" stroke="#000" stroke-width="0.1" text-anchor="end" fill="#000">0</text>
<line x1="597.40" y1="304.15" x2="601.40" y2="304.15" stroke="#000" stroke-width="1.15" />
<text transform="translate(596.10 306.53) rotate(0.05)" font-size="7.1" font-weight="bold" stroke="#000" stroke-width="0.1" text-anchor="end" fill="#000">50</text>
<line x1="597.40" y1="280.50" x2="601.40" y2="280.50" stroke="#000" stroke-width="1.15" />
<text transform="translate(596.10 282.88) rotate(0.05)" font-size="7.1" font-weight="bold" stroke="#000" stroke-width="0.1" text-anchor="end" fill="#000">100</text>
<line x1="597.40" y1="256.85" x2="601.40" y2="256.85" stroke="#000" stroke-width="1.15" />
<text transform="translate(596.10 259.23) rotate(0.05)" font-size="7.1" font-weight="bold" stroke="#000" stroke-width="0.1" text-anchor="end" fill="#000">150</text>
<line x1="597.40" y1="233.20" x2="601.40" y2="233.20" stroke="#000" stroke-width="1.15" />
<text transform="translate(596.10 235.58) rotate(0.05)" font-size="7.1" font-weight="bold" stroke="#000" stroke-width="0.1" text-anchor="end" fill="#000">200</text>
<line x1="619.80" y1="327.80" x2="619.80" y2="331.60" stroke="#000" stroke-width="1.2" />
<line x1="646.80" y1="327.80" x2="646.80" y2="331.60" stroke="#000" stroke-width="1.2" />
<text transform="translate(580.70 278.80) rotate(-90)" font-size="7.5" font-weight="bold" text-anchor="middle" textLength="62.0" lengthAdjust="spacing" fill="#000">AUC (mg/dl*min)</text>
<text transform="translate(622.10 338.10) rotate(-45)" font-size="7.3" font-weight="bold" stroke="#000" stroke-width="0.1" text-anchor="end" fill="#000">Con Female</text>
<text transform="translate(649.30 338.10) rotate(-45)" font-size="7.3" font-weight="bold" stroke="#000" stroke-width="0.1" text-anchor="end" fill="#000">Caf Female</text>
<line x1="611.20" y1="283.30" x2="628.60" y2="283.30" stroke="#000" stroke-width="1.6" />
<line x1="619.90" y1="279.10" x2="619.90" y2="285.70" stroke="#2a2a2a" stroke-width="0.85" />
<line x1="615.30" y1="279.10" x2="624.50" y2="279.10" stroke="#2a2a2a" stroke-width="0.85" />
<line x1="615.30" y1="285.70" x2="624.50" y2="285.70" stroke="#2a2a2a" stroke-width="0.85" />
<line x1="647.10" y1="255.70" x2="647.10" y2="267.50" stroke="#2a2a2a" stroke-width="0.85" />
<line x1="642.50" y1="255.70" x2="651.70" y2="255.70" stroke="#2a2a2a" stroke-width="0.85" />
<line x1="642.50" y1="267.50" x2="651.70" y2="267.50" stroke="#2a2a2a" stroke-width="0.85" />
<text transform="translate(647.30 255.79) rotate(0.05)" font-size="7.5" font-weight="bold" stroke="#222" stroke-width="0.15" text-anchor="middle" font-family='"Liberation Sans", sans-serif' fill="#222">*</text>
</svg>
</body>
</html>
